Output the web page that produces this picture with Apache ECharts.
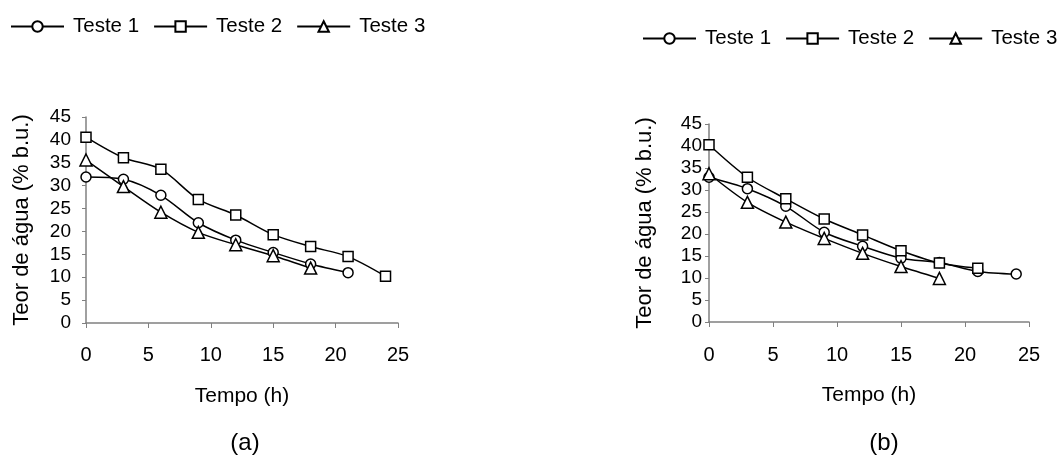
<!DOCTYPE html>
<html>
<head>
<meta charset="utf-8">
<script src="https://cdn.jsdelivr.net/npm/echarts@6/dist/echarts.min.js"></script>
<style>
  * { margin: 0; padding: 0; }
  html, body { background: #fff; }
  #chart { width: 1059px; height: 456px; }
</style>
</head>
<body>
<div id="chart"></div>
<script>
// tempo (h)
var hours = [0, 3, 6, 9, 12, 15, 18, 21, 24];
var xTicks = [0, 5, 10, 15, 20, 25];
var yTicks = [0, 5, 10, 15, 20, 25, 30, 35, 40, 45];

// (a)
var teste1A = [31.9, 31.4, 27.9, 21.9, 18.1, 15.4, 12.9, 11.0];
var teste2A = [40.6, 36.1, 33.6, 27.0, 23.6, 19.3, 16.7, 14.5, 10.2];
var teste3A = [35.6, 29.8, 24.2, 19.8, 17.1, 14.7, 12.0];

// (b)
var teste1B = [32.9, 30.3, 26.3, 20.4, 17.2, 14.5, 13.5, 11.5, 10.9];
var teste2B = [40.3, 32.9, 28.0, 23.4, 19.8, 16.2, 13.4, 12.2];
var teste3B = [33.7, 27.2, 22.7, 19.0, 15.6, 12.6, 9.9];

var seriesNames = ["Teste 1", "Teste 2", "Teste 3"];
var symbols = ["circle", "rect", "triangle"];

var font = "'Liberation Sans', Arial, sans-serif";

function pairs (values) {
  return values.map(function (v, i) { return [hours[i], v]; });
}

function makeSeries (values, idx, axisIdx) {
  return {
    name: seriesNames[idx],
    type: "line",
    xAxisIndex: axisIdx,
    yAxisIndex: axisIdx,
    data: pairs(values),
    smooth: 0.3,
    symbol: symbols[idx],
    symbolSize: idx === 2 ? 12 : 10,
    lineStyle: { color: "#000", width: 1.5 },
    itemStyle: { color: "#fff", borderColor: "#000", borderWidth: 1.5 },
    emphasis: { disabled: true },
    animation: false
  };
}

function makeX (gridIdx, margin) {
  return {
    type: "value",
    gridIndex: gridIdx,
    min: xTicks[0],
    max: xTicks[xTicks.length - 1],
    interval: 5,
    name: "Tempo (h)",
    nameLocation: "middle",
    nameGap: 63,
    nameTextStyle: { color: "#000", fontSize: 21, fontFamily: font },
    axisLine: { lineStyle: { color: "#808080", width: 1.5 } },
    axisTick: { show: true, inside: false, length: 5, lineStyle: { color: "#808080" } },
    axisLabel: { color: "#000", fontSize: 20, fontFamily: font, margin: margin },
    splitLine: { show: false }
  };
}

function makeY (gridIdx, margin) {
  return {
    type: "value",
    gridIndex: gridIdx,
    min: yTicks[0],
    max: yTicks[yTicks.length - 1],
    interval: 5,
    name: "Teor de água (% b.u.)",
    nameLocation: "middle",
    nameGap: 53,
    nameTextStyle: { color: "#000", fontSize: 22, fontFamily: font },
    axisLine: { show: true, lineStyle: { color: "#808080", width: 1.5 } },
    axisTick: { show: true, inside: false, length: 4, lineStyle: { color: "#808080" } },
    axisLabel: { color: "#000", fontSize: 19, fontFamily: font, margin: margin },
    splitLine: { show: false }
  };
}

function makeLegend (left, top) {
  return {
    left: left,
    top: top,
    padding: 0,
    itemWidth: 53,
    itemHeight: 13,
    itemGap: 14,
    data: seriesNames,
    selectedMode: false,
    textStyle: { color: "#000", fontSize: 20.5, fontFamily: font, padding: [0, 0, 0, 4] }
  };
}

var chart = echarts.init(document.getElementById("chart"));
chart.setOption({
  backgroundColor: "#fff",
  animation: false,
  title: [
    { text: "(a)", left: 240, top: 426, textAlign: "center",
      textStyle: { color: "#000", fontSize: 24, fontWeight: "normal", fontFamily: font } },
    { text: "(b)", left: 879, top: 426, textAlign: "center",
      textStyle: { color: "#000", fontSize: 24, fontWeight: "normal", fontFamily: font } }
  ],
  legend: [makeLegend(10, 16), makeLegend(642, 28)],
  grid: [
    { left: 86, top: 117, width: 312, height: 206 },
    { left: 709, top: 124, width: 320, height: 198 }
  ],
  xAxis: [makeX(0, 22), makeX(1, 23)],
  yAxis: [makeY(0, 15), makeY(1, 7)],
  series: [
    makeSeries(teste1A, 0, 0),
    makeSeries(teste2A, 1, 0),
    makeSeries(teste3A, 2, 0),
    makeSeries(teste1B, 0, 1),
    makeSeries(teste2B, 1, 1),
    makeSeries(teste3B, 2, 1)
  ]
});
</script>
</body>
</html>
